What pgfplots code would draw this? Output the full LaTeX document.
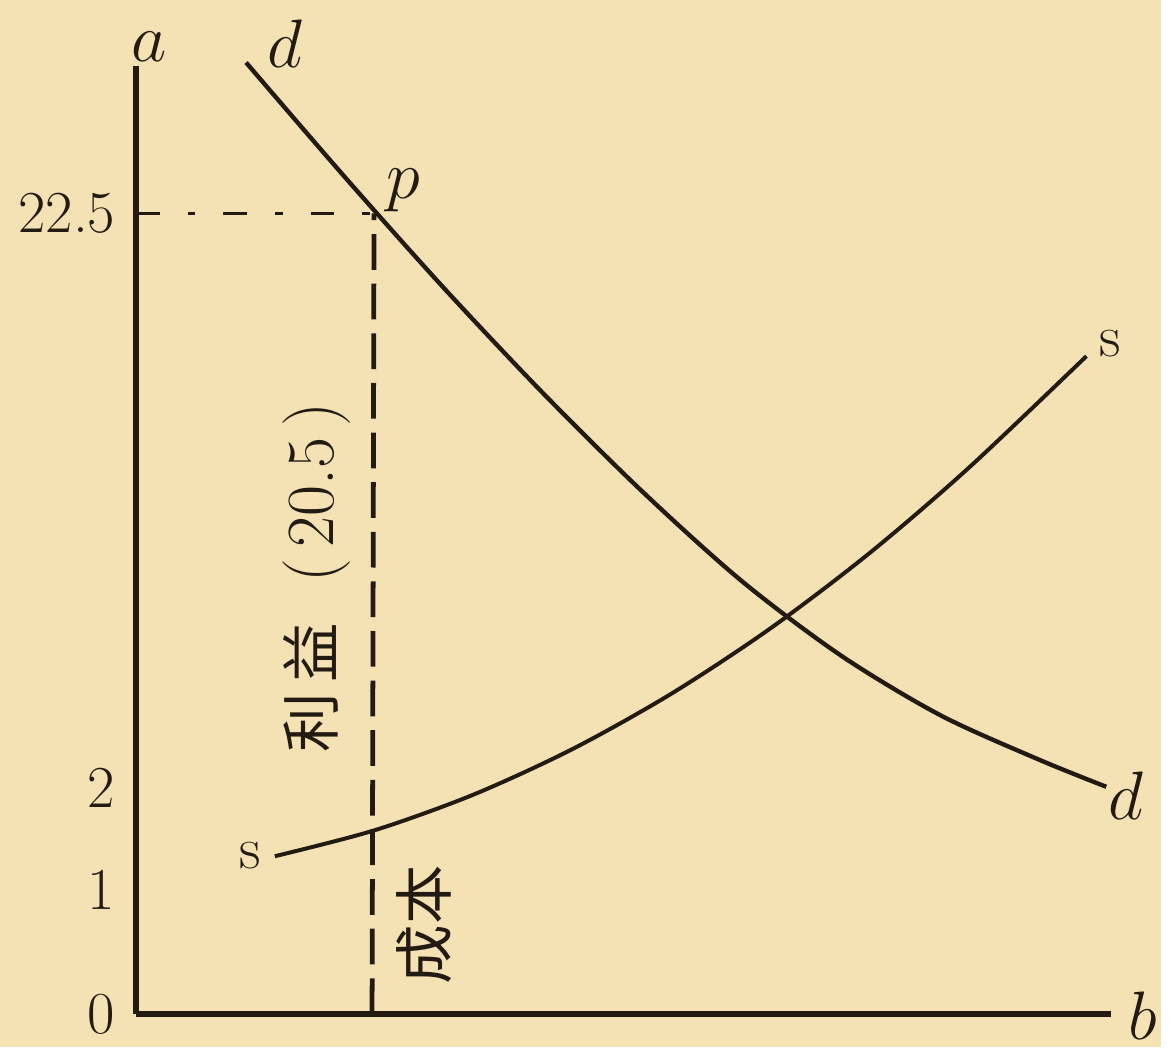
\documentclass[border=0pt]{standalone}
\usepackage{fontspec}
\usepackage{pgfplots}
\pgfplotsset{compat=1.18}
\newfontfamily\cjk{Noto Sans CJK SC}
\definecolor{paper}{RGB}{244,226,180}
\definecolor{ink}{RGB}{35,27,18}

\begin{document}
\begin{tikzpicture}
\begin{axis}[
  set layers,
  x=0.25pt, y=0.25pt,
  xmin=0, xmax=983, ymin=0, ymax=955,
  axis lines=left,
  axis line style={ink, line width=1.3pt, -},
  clip=false,
  xtick=\empty,
  ytick={0,125,228,807},
  yticklabels={0,1,2,22.5},
  major tick length=0pt,
  yticklabel style={font=\fontsize{15}{15}\selectfont, text=ink, inner sep=1pt, xshift=-4pt},
]
% paper background and page size
\begin{pgfonlayer}{axis background}
\fill[paper] (axis cs:-137,-33) rectangle (axis cs:1033,1022);
\end{pgfonlayer}

% demand curve d-d
\addplot[ink, line width=1.1pt, smooth] coordinates {
  (111,959) (211,843) (311,731) (411,625) (511,526) (611,436)
  (711,361) (811,301) (911,256) (978,229)
};
% supply curve s-s
\addplot[ink, line width=1.0pt, smooth] coordinates {
  (140,159) (240,185) (340,221) (440,267) (540,323) (640,389)
  (740,465) (840,551) (958,663)
};
% guide lines to p
\addplot[ink, line width=0.9pt, dash pattern=on 6pt off 7pt on 2pt off 7pt] coordinates {(0,807) (243,807)};
\addplot[ink, line width=1.2pt, dash pattern=on 9pt off 3.5pt] coordinates {(238,0) (240,807)};

\node[text=ink, font=\fontsize{17}{17}\selectfont] at (axis cs:13,975) {$a$};
\node[text=ink, font=\fontsize{17}{17}\selectfont, anchor=west] at (axis cs:986,-2) {$b$};
\node[text=ink, font=\fontsize{17}{17}\selectfont] at (axis cs:150,978) {$d$};
\node[text=ink, font=\fontsize{17}{17}\selectfont] at (axis cs:270,830) {$p$};
\node[text=ink, font=\fontsize{15}{15}\selectfont] at (axis cs:115,160) {s};
\node[text=ink, font=\fontsize{15}{15}\selectfont] at (axis cs:982,676) {s};
\node[text=ink, font=\fontsize{17}{17}\selectfont] at (axis cs:998,220) {$d$};
\node[text=ink, rotate=90, font=\fontsize{17}{17}\selectfont] at (axis cs:182,440)
  {{\cjk\fontsize{15}{15}\selectfont 利\,益}\ \ (\,20.5\,)};
\node[text=ink, rotate=90, font=\fontsize{15}{15}\selectfont] at (axis cs:290,90) {\cjk 成本};
\end{axis}
\end{tikzpicture}
\end{document}
